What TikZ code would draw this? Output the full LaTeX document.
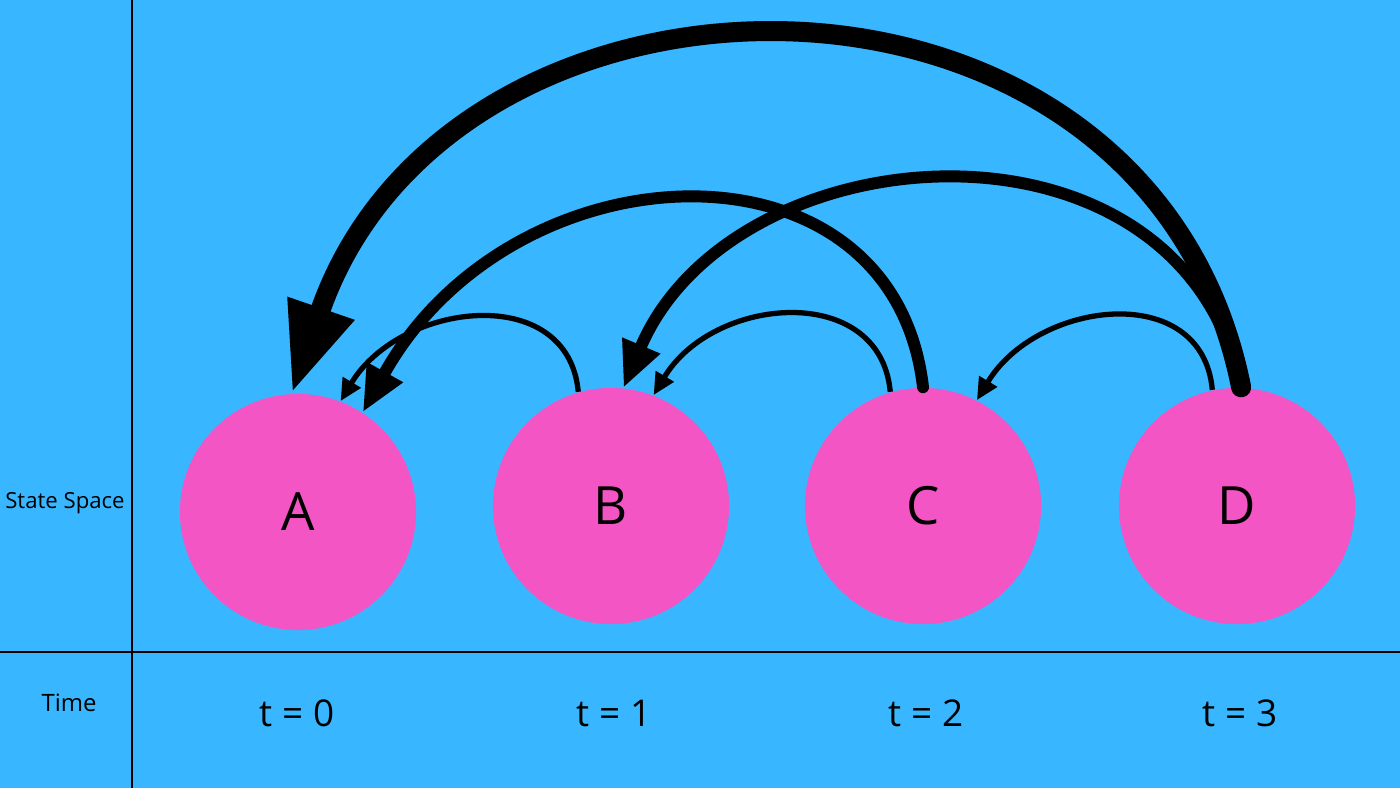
\documentclass[tikz,border=0pt]{standalone}
\usepackage{fontspec}
\setmainfont{Open Sans}
\usetikzlibrary{arrows.meta}
\definecolor{skyback}{HTML}{38B6FF}
\definecolor{statepink}{HTML}{F455C4}
\tikzset{
  state/.style={circle,fill=statepink,minimum size=2.36cm,inner sep=0pt,font=\fontsize{15}{15}\selectfont},
  timelabel/.style={font=\fontsize{10.5}{10.5}\selectfont},
  bigjump/.style={line width=5.7pt,line cap=round,-{Triangle[length=9mm,width=6.5mm]}},
  midjump/.style={line width=3.4pt,line cap=round,-{Triangle[length=4.6mm,width=3.8mm]}},
  smalljump/.style={line width=1.5pt,-{Triangle[length=2.2mm,width=2mm]}}
}
\begin{document}
\begin{tikzpicture}[x=0.01cm,y=-0.01cm]
\fill[skyback] (0,0) rectangle (1400,788);
\useasboundingbox (0,0) rectangle (1400,788);
\draw[line width=0.6pt] (132,0) -- (132,788);
\draw[line width=0.6pt] (0,652) -- (1400,652);

\node[font=\fontsize{6.3}{6.3}\selectfont,inner sep=0pt] (statespace) at (65,503) {State Space};
\node[font=\fontsize{6.8}{6.8}\selectfont] (time) at (69,703) {Time};

\node[state] (A) at (298,512) {A};
\node[state] (B) at (611,506) {B};
\node[state] (C) at (923,506) {C};
\node[state] (D) at (1237,506) {D};

\node[timelabel] (t0) at (297,713) {t = 0};
\node[timelabel] (t1) at (614,713) {t = 1};
\node[timelabel] (t2) at (926,713) {t = 2};
\node[timelabel] (t3) at (1240,713) {t = 3};

% one step back
\draw[smalljump] (B.106) .. controls +(-10,-110) and +(60,-100) .. (A.69);
\draw[smalljump] (C.106) .. controls +(-10,-110) and +(60,-100) .. (B.69);
\draw[smalljump] (D.102) .. controls +(-10,-110) and +(60,-100) .. (C.63);
% longer jumps
\draw[midjump] (C.90) .. controls +(-30,-260) and +(150,-270) .. (A.57);
\draw[midjump] (D.88) .. controls +(-60,-290) and +(110,-260) .. (B.84);
\draw[bigjump] (D.88) .. controls +(-93,-465) and +(160,-465) .. (A.93);
\end{tikzpicture}
\end{document}
